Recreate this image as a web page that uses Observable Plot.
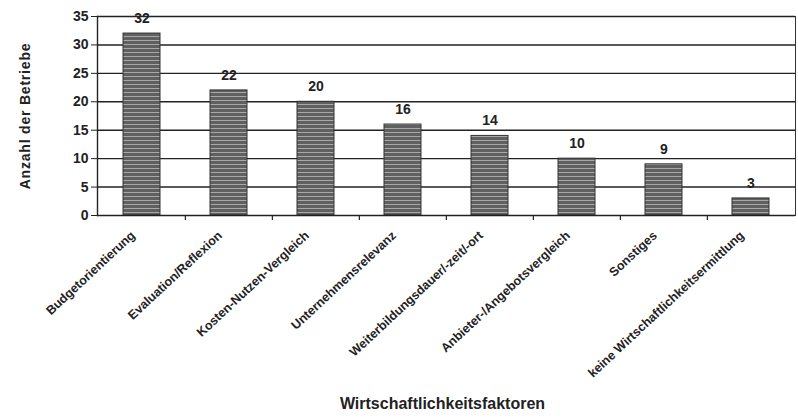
<!DOCTYPE html>
<html>
<head>
<meta charset="utf-8">
<script src="https://cdn.jsdelivr.net/npm/d3@7"></script>
<script src="https://cdn.jsdelivr.net/npm/@observablehq/plot@0.6"></script>
<style>
  html, body { margin: 0; padding: 0; background: #fff; }
</style>
</head>
<body>
<div id="chart"></div>
<script>
const categories = [
  "Budgetorientierung",
  "Evaluation/Reflexion",
  "Kosten-Nutzen-Vergleich",
  "Unternehmensrelevanz",
  "Weiterbildungsdauer/-zeit/-ort",
  "Anbieter-/Angebotsvergleich",
  "Sonstiges",
  "keine Wirtschaftlichkeitsermittlung"
];
const values = [32, 22, 20, 16, 14, 10, 9, 3];
const yTicks = [0, 5, 10, 15, 20, 25, 30, 35];
const yTitle = "Anzahl der Betriebe";
const xTitle = "Wirtschaftlichkeitsfaktoren";

const data = categories.map((c, i) => ({cat: c, value: values[i]}));

const W = 798, H = 420;
const mL = 97, mR = 3, mT = 16, mB = 205;
const step = (W - mL - mR) / categories.length;

const chart = Plot.plot({
  width: W,
  height: H,
  marginLeft: mL,
  marginRight: mR,
  marginTop: mT,
  marginBottom: mB,
  style: {fontFamily: "'Liberation Sans', Arial, sans-serif", fontWeight: "bold", fontSize: "13px", color: "#222", background: "#fff"},
  x: {domain: categories, paddingInner: 0.58, paddingOuter: 0.29},
  y: {domain: [0, 35]},
  marks: [
    Plot.ruleY(yTicks.slice(1), {y: d => d, stroke: "#222", strokeWidth: 1.4}),
    Plot.barY(data, {x: "cat", y: "value", fill: "url(#hatch)", stroke: "#333", strokeWidth: 1}),
    Plot.text(data, {x: "cat", y: "value", text: d => String(d.value), dy: -15, fontSize: 14, fontWeight: "bold", fill: "#222"}),
    Plot.frame({anchor: "left", stroke: "#222", strokeWidth: 1.4}),
    Plot.frame({anchor: "right", stroke: "#333", strokeWidth: 1}),
    Plot.ruleY([0], {stroke: "#222", strokeWidth: 1.6}),
    Plot.ruleX(categories.slice(1), {x: d => d, y1: 0, y2: 0, insetBottom: -5, dx: -step / 2, stroke: "#222", strokeWidth: 1.2}),
    Plot.axisY({ticks: yTicks, tickSize: 6, tickPadding: 3, fontSize: 14, fontWeight: "bold", label: null}),
    Plot.axisX({tickSize: 0, tickRotate: -43, tickPadding: 18, dx: -9, fontSize: 12.5, fontWeight: "bold", label: null}),
    Plot.text([yTitle], {frameAnchor: "left", dx: -77, rotate: -90, text: d => d, fontSize: 14, fontWeight: "bold", fill: "#222", lineAnchor: "top", textAnchor: "middle"}),
    Plot.text([xTitle], {frameAnchor: "bottom", dy: 193, dx: -4, text: d => d, fontSize: 16, fontWeight: "bold", fill: "#222", lineAnchor: "bottom"})
  ]
});

const svg = d3.select(chart);
const defs = svg.insert("defs", ":first-child");
const pat = defs.append("pattern")
  .attr("id", "hatch")
  .attr("patternUnits", "userSpaceOnUse")
  .attr("width", 8)
  .attr("height", 4);
pat.append("rect").attr("width", 8).attr("height", 4).attr("fill", "#606060");
pat.append("rect").attr("y", 0).attr("width", 8).attr("height", 1).attr("fill", "#a8a8a8");

svg.selectAll("text").filter(function() { return this.textContent === yTitle; }).style("letter-spacing", "0.8px");

document.getElementById("chart").appendChild(chart);
</script>
</body>
</html>
